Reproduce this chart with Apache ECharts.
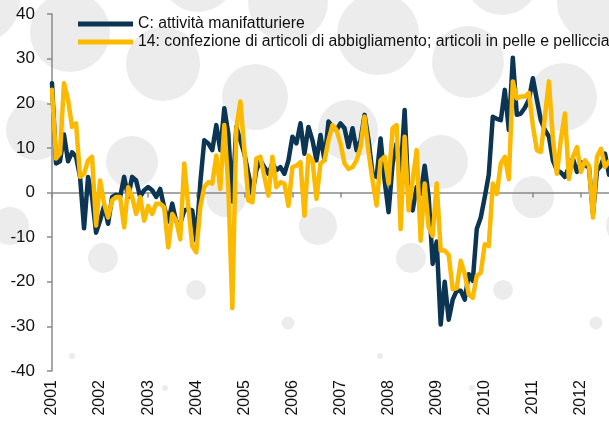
<!DOCTYPE html>
<html>
<head>
<meta charset="utf-8">
<script src="https://cdn.jsdelivr.net/npm/echarts@6/dist/echarts.min.js"></script>
<style>
html, body { margin: 0; padding: 0; background: #fff; }
#main { width: 609px; height: 423px; }
</style>
</head>
<body>
<div id="main"></div>
<script>
// monthly, Jan 2001 .. Aug 2012
const years = [2001, 2002, 2003, 2004, 2005, 2006, 2007, 2008, 2009, 2010, 2011, 2012]
const months = []
years.forEach(y => {
    for (let m = 1; m <= 12; m++) months.push(y + '-' + (m < 10 ? '0' + m : m))
})
const categories = months.slice(0, 140)

const manifatturiere = [
    24.5, 6.5, 7, 13, 7, 9, 8, 3.5, -8, 3.5, -1, -9,
    -6.3, -3, -7, -1, -0.5, -1, 3.5, -1, 3.5, 2.7, -1, 0.5,
    1.2, 0.5, -1, 0.8, -3.3, -6.5, -2.5, -6.5, -7, -4, -3.7, -4,
    -10.8, 2, 11.7, 11, 9.5, 15.1, 9.5, 18.9, 13.2, -2, 14.7, 11.7,
    8.7, 4.2, -0.3, 5, 7.2, 5.7, 4.2, 6.5, 5, 5.7, 4.2, 7.2,
    12.5, 11, 15.5, 8.7, 14.7, 11.7, 7.2, 12.9, 7.2, 15.9, 14.7, 14,
    15.5, 14.4, 10.2, 14.4, 9.5, 11.7, 17.4, 11.7, 4.2, 3.5, 12.1, 2.7,
    -4.4, 6.5, 11, 4.2, 18.5, -1.8, -4, 1.2, -0.3, 6, -1, -16,
    -11, -29.6, -20, -28.5, -24, -22, -22, -24, -18.3, -19.8, -8.2, -5.6,
    -1, 4, 17, 16.5, 16.2, 23, 14, 30.2, 17.4, 17.7, 19, 20.8,
    25.6, 20.8, 16.2, 14, 12.5, 7.2, 5, 4.5, 3.5, 5.7, 7.6, 4.6,
    6.8, 6, 5.7, -4.8, 5, 6, 8.7, 4
]

const abbigliamento = [
    23, 7.6, 8.7, 24.5, 20.8, 14.7, 15.5, 3.5, 4.2, 7.2, 8, -7.4,
    2.7, -2.5, -5.6, -1.8, -1, -1, -7.8, 1.2, -1, -4.8, -1, -6.3,
    -3, -4.8, -2.5, -2.5, -3.3, -12.3, -4.8, -6.3, -10.5, 6.5, -3, -12,
    -13.4, -3.3, 1.2, 2.3, 2, 8.3, 0.8, 15.1, 1.2, -25.9, 14.4, 20.4,
    9.5, -1.8, -2.2, 7.6, 8, 3.5, -0.7, 8, 1.2, 2.3, 2, -3,
    5.7, 6, 6.8, -5.2, 8.3, 7.2, -1.4, 6.5, 7.2, 11.7, 15.1, 14,
    11, 6.5, 5.3, 5.7, 7.2, 10.2, 17, 9, 2.7, -2.9, 7.2, 8,
    2, 14.4, 15.1, -8.2, 12.5, -4, 2.7, 9.5, -10.8, 2, -7.8, -9.7,
    2, -13, -13, -14, -21.7, -21.4, -15.3, -18.3, -22.8, -23.6, -18.7, -18,
    -11.6, -12, 2, -0.3, 6.5, 8, 3, 24.9, 21.1, 21.5, 21.5, 22.3,
    15, 9.5, 9.1, 17, 24.9, 12, 4.2, 12, 17.7, 3, 8, 10.2,
    4.6, 7.2, 6, -5.6, 8, 9.8, 5.7, 7
]

const seriesNames = [
    'C: attività manifatturiere',
    '14: confezione di articoli di abbigliamento; articoli in pelle e pelliccia'
]

// background dots (decoration only)
const dots = [
    [-20, 2, 40], [70, 32, 40], [163, 64, 37], [255, 97, 33], [36, 130, 30], [132, 162, 26],
    [10, 226, 19], [226, 197, 20], [103, 258, 15], [196, 290, 10], [288, 323, 6.5], [72, 356, 3], [165, 388, 3],
    [198, -25, 37], [288, 2, 40], [378, 34, 41], [468, 62, 36], [563, 97, 34], [348, 130, 30], [441, 162, 27],
    [318, 226, 19], [533, 197, 21], [411, 258, 15], [503, 290, 10], [596, 323, 6.5], [380, 356, 3], [472, 388, 3],
    [502, -22, 37], [597, 2, 40], [625, 226, 19]
]

const isYearStart = (i) => i % 12 === 0
const axisGrey = '#8a8a8a'
const font = '"Liberation Sans", Arial, sans-serif'

const chart = echarts.init(document.getElementById('main'))
const option = {
    animation: false,
    backgroundColor: '#fff',
    graphic: dots.map(d => ({
        type: 'circle',
        silent: true,
        z: -100,
        shape: { cx: d[0], cy: d[1], r: d[2] },
        style: { fill: '#ececec' }
    })),
    legend: {
        orient: 'vertical',
        left: 73,
        top: 10,
        itemWidth: 55,
        itemHeight: 5,
        itemGap: 0,
        icon: 'rect',
        textStyle: { fontFamily: font, fontSize: 15.8, color: '#111', lineHeight: 18 },
        data: seriesNames
    },
    grid: { left: 52, top: 14, width: 558, height: 357 },
    xAxis: [
        {
            type: 'category',
            data: categories,
            boundaryGap: false,
            position: 'bottom',
            axisLine: { show: false, onZero: false },
            axisTick: { show: false },
            axisLabel: {
                interval: isYearStart,
                rotate: 90,
                margin: 9,
                fontFamily: font,
                fontSize: 16,
                color: '#111',
                formatter: v => v.slice(0, 4)
            }
        },
        {
            type: 'category',
            data: categories,
            boundaryGap: false,
            position: 'bottom',
            axisLine: { show: true, onZero: true, lineStyle: { color: axisGrey, width: 1.5 } },
            axisTick: { show: true, interval: isYearStart, length: 5, lineStyle: { color: axisGrey, width: 1.5 } },
            axisLabel: { show: false }
        }
    ],
    yAxis: {
        type: 'value',
        min: -40,
        max: 40,
        interval: 10,
        splitLine: { show: false },
        axisLine: { show: true, lineStyle: { color: axisGrey, width: 1.5 } },
        axisTick: { show: true, length: 5, lineStyle: { color: axisGrey, width: 1.5 } },
        axisLabel: { fontFamily: font, fontSize: 17, color: '#111', margin: 17 }
    },
    series: [
        {
            name: seriesNames[0],
            type: 'line',
            data: manifatturiere,
            symbol: 'none',
            color: '#0b3553',
            lineStyle: { width: 4.5, cap: 'round', join: 'round' }
        },
        {
            name: seriesNames[1],
            type: 'line',
            data: abbigliamento,
            symbol: 'none',
            color: '#fbb900',
            lineStyle: { width: 4.5, cap: 'round', join: 'round' }
        }
    ]
}
chart.setOption(option)
window.addEventListener('resize', function () {
    chart.resize()
})
</script>
</body>
</html>
